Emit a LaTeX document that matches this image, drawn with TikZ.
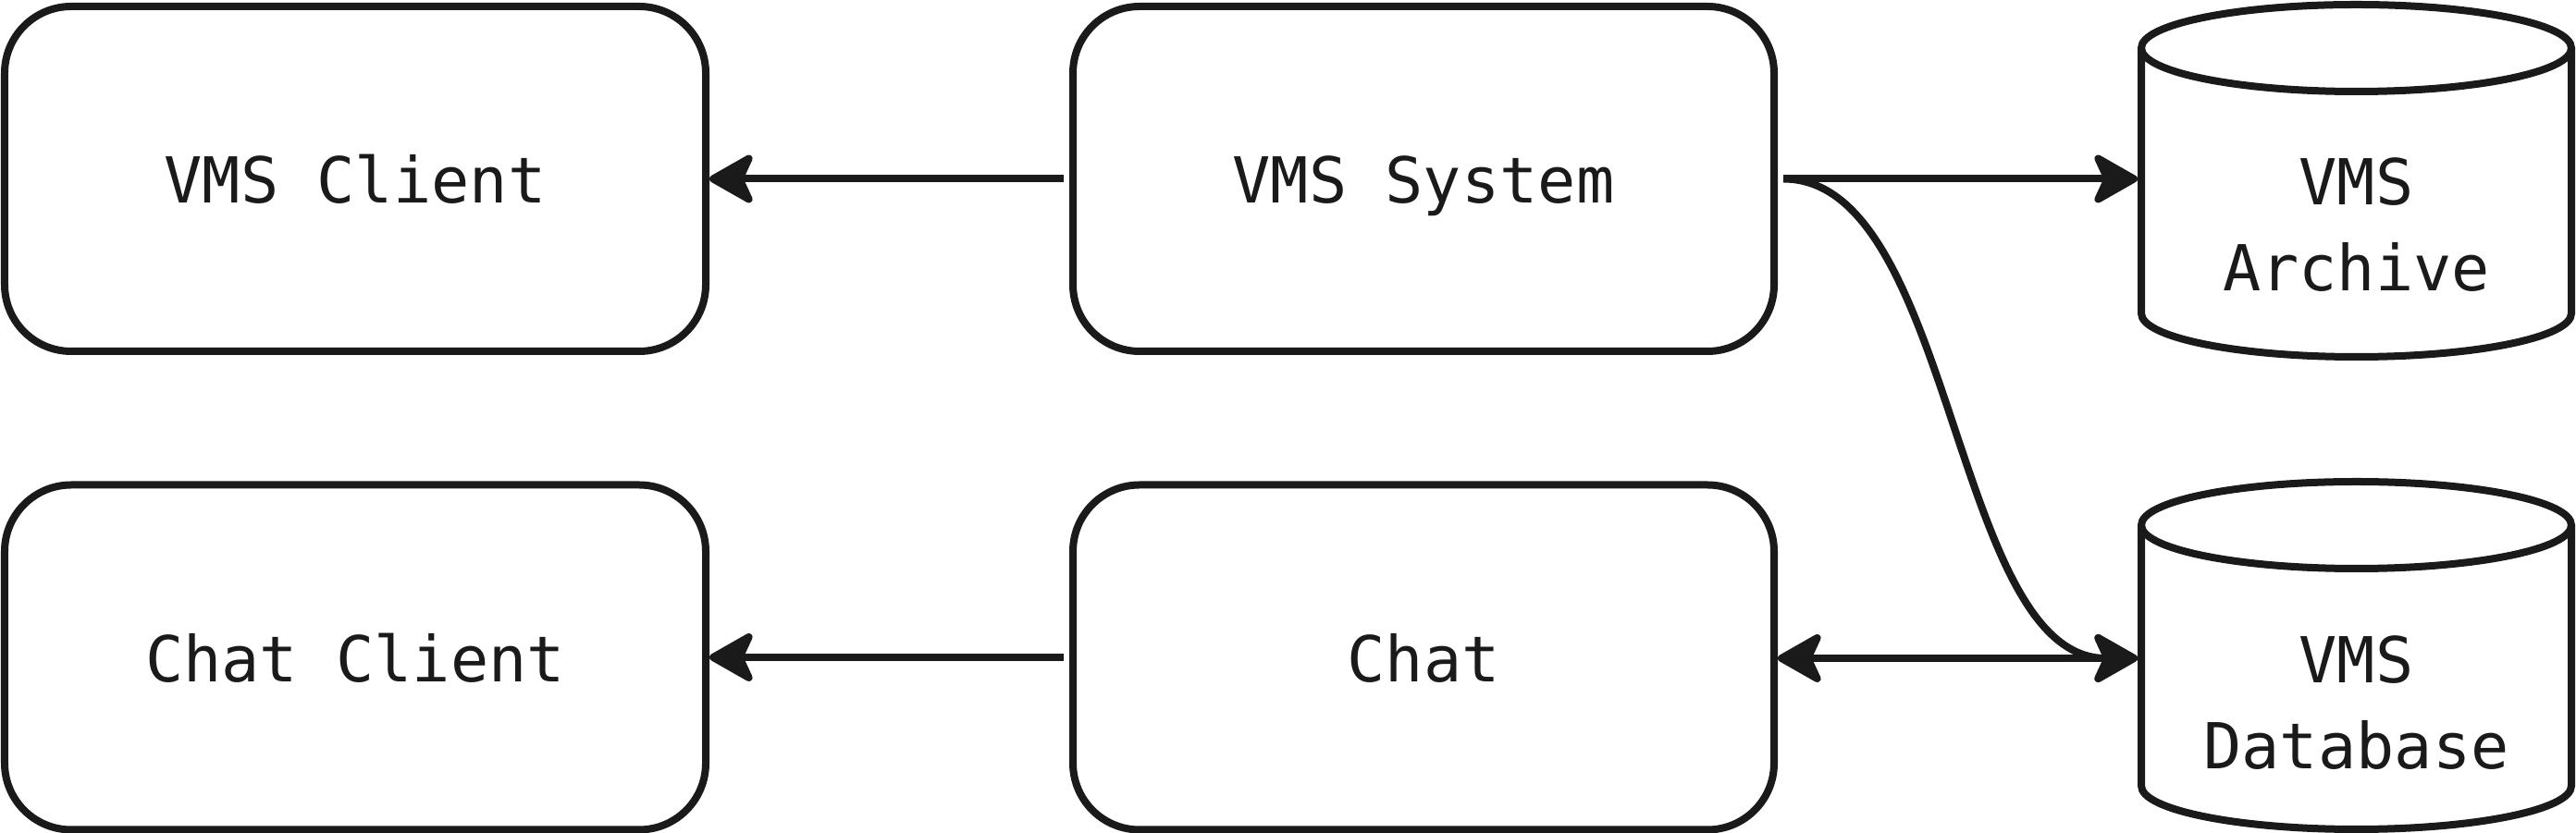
\documentclass[tikz,border=0pt]{standalone}
\usepackage{fontspec}
\newfontfamily\monofnt{DejaVu Sans Mono}
\usetikzlibrary{arrows.meta}
\definecolor{ink}{HTML}{1A1A1A}
\begin{document}
\begin{tikzpicture}[
  every node/.style={font=\monofnt\fontsize{19.5pt}{26.5pt}\selectfont, text=ink},
  box/.style={draw=ink, line width=0.08cm, rounded corners=0.72cm, minimum width=7.58cm, minimum height=3.73cm, text height=0.53cm, text depth=0cm, inner sep=0pt},
  cyl/.style={minimum width=4.65cm, minimum height=3.81cm, outer sep=0.04cm, inner sep=0pt},
  cyltext/.style={align=center, anchor=base, inner sep=0pt},
  cylline/.style={draw=ink, line width=0.08cm},
  tipA/.tip={Stealth[length=0.55cm,width=0.62cm,inset=0.14cm,round]},
  arr/.style={draw=ink, line width=0.08cm, -tipA},
  darr/.style={draw=ink, line width=0.08cm, tipA-tipA}
]
\useasboundingbox (0,0) rectangle (27.85,9.01);

% boxes
\node[box] (vc) at (3.84,7.075) {VMS Client};
\node[box] (vs) at (15.39,7.075) {VMS System};
\node[box] (cc) at (3.84,1.90) {Chat Client};
\node[box] (ch) at (15.39,1.90) {Chat};

% cylinders (anchor nodes)
\node[cyl] (arch) at (25.475,7.075) {};
\node[cyl] (db) at (25.475,1.89) {};

% archive cylinder
\draw[cylline] (23.15,8.49) -- (23.15,5.62) arc[start angle=180,end angle=360,x radius=2.325cm,y radius=0.47cm] -- (27.80,8.49);
\draw[cylline] (25.475,8.49) ellipse [x radius=2.325cm, y radius=0.47cm];
\node[cyltext] (archt) at (25.475,5.86) {VMS\\Archive};

% database cylinder
\draw[cylline] (23.15,3.33) -- (23.15,0.51) arc[start angle=180,end angle=360,x radius=2.325cm,y radius=0.47cm] -- (27.80,3.33);
\draw[cylline] (25.475,3.33) ellipse [x radius=2.325cm, y radius=0.47cm];
\node[cyltext] (dbt) at (25.475,0.69) {VMS\\Database};

% connectors
\draw[arr] ([xshift=-0.06cm]vs.west) -- (vc.east);
\draw[arr] ([xshift=0.06cm]vs.east) -- (vs.east -| arch.west);
\draw[arr] ([xshift=0.06cm]vs.east) .. controls +(1.85,0) and +(-2.0,0) .. (db.west);
\draw[darr] (ch.east |- db.west) -- (db.west);
\draw[arr] ([xshift=-0.06cm]ch.west) -- (cc.east);
\end{tikzpicture}
\end{document}
